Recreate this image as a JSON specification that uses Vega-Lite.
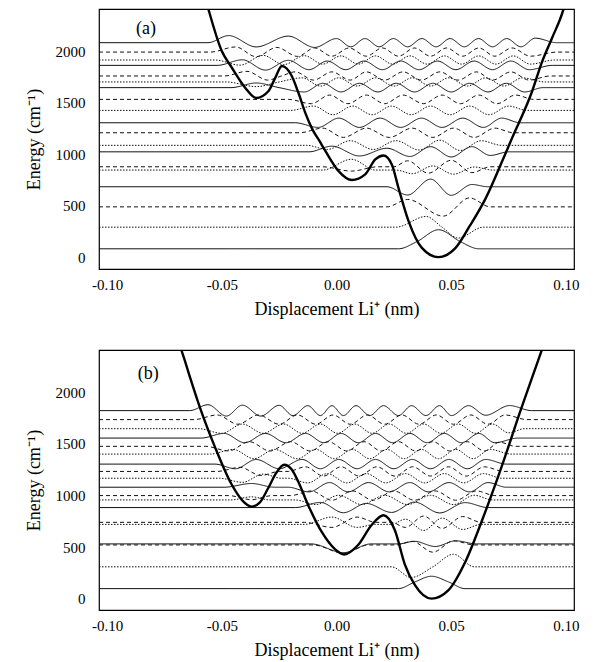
{
"$schema": "https://vega.github.io/schema/vega-lite/v6.json",
"padding": {"left": 24, "top": 8, "right": 20, "bottom": 5},
"spacing": 30,
"config": {
  "font": "Liberation Serif",
  "view": {"stroke": "black", "strokeWidth": 1.2},
  "axis": {"labelFont": "Liberation Serif", "labelFontSize": 15, "titleFont": "Liberation Serif", "titleFontSize": 18, "titleFontWeight": "normal", "labelColor": "black", "titleColor": "black", "grid": false, "domain": false, "tickColor": "black", "tickSize": 0}
},
"datasets": {
"a": [
{"k":"aP","s":"P","x":-0.0565,"y":2460},{"k":"aP","s":"P","x":-0.0558,"y":2405},{"k":"aP","s":"P","x":-0.050,"y":2000},{"k":"aP","s":"P","x":-0.0456,"y":1838},{"k":"aP","s":"P","x":-0.0398,"y":1644},{"k":"aP","s":"P","x":-0.0350,"y":1544},{"k":"aP","s":"P","x":-0.0296,"y":1612},{"k":"aP","s":"P","x":-0.0267,"y":1740},{"k":"aP","s":"P","x":-0.0238,"y":1855},{"k":"aP","s":"P","x":-0.0195,"y":1758},{"k":"aP","s":"P","x":-0.0166,"y":1595},{"k":"aP","s":"P","x":-0.0136,"y":1400},{"k":"aP","s":"P","x":-0.0105,"y":1240},{"k":"aP","s":"P","x":-0.0075,"y":1130},{"k":"aP","s":"P","x":-0.0048,"y":1029},{"k":"aP","s":"P","x":0.0009,"y":835},{"k":"aP","s":"P","x":0.0067,"y":748},{"k":"aP","s":"P","x":0.0125,"y":803},{"k":"aP","s":"P","x":0.0169,"y":949},{"k":"aP","s":"P","x":0.0205,"y":987},{"k":"aP","s":"P","x":0.0241,"y":900},{"k":"aP","s":"P","x":0.027,"y":673},{"k":"aP","s":"P","x":0.0314,"y":350},{"k":"aP","s":"P","x":0.0372,"y":90},{"k":"aP","s":"P","x":0.0444,"y":0},{"k":"aP","s":"P","x":0.0517,"y":85},{"k":"aP","s":"P","x":0.058,"y":300},{"k":"aP","s":"P","x":0.065,"y":570},{"k":"aP","s":"P","x":0.072,"y":920},{"k":"aP","s":"P","x":0.0764,"y":1150},{"k":"aP","s":"P","x":0.0851,"y":1600},{"k":"aP","s":"P","x":0.0895,"y":1890},{"k":"aP","s":"P","x":0.0938,"y":2120},{"k":"aP","s":"P","x":0.0989,"y":2405},{"k":"aP","s":"P","x":0.0996,"y":2460},

{"k":"a1","s":"S","x":-0.1035,"y":81},{"k":"a1","s":"S","x":0.027,"y":81},{"k":"a1","s":"S","x":0.035,"y":150},{"k":"a1","s":"S","x":0.0445,"y":266},{"k":"a1","s":"S","x":0.054,"y":150},{"k":"a1","s":"S","x":0.062,"y":81},{"k":"a1","s":"S","x":0.1035,"y":81},

{"k":"a2","s":"O","x":-0.1035,"y":291},{"k":"a2","s":"O","x":0.026,"y":291},{"k":"a2","s":"O","x":0.039,"y":395},{"k":"a2","s":"O","x":0.046,"y":291},{"k":"a2","s":"O","x":0.053,"y":185},{"k":"a2","s":"O","x":0.064,"y":291},{"k":"a2","s":"O","x":0.1035,"y":291},

{"k":"a3","s":"D","x":-0.1035,"y":488},{"k":"a3","s":"D","x":0.022,"y":488},{"k":"a3","s":"D","x":0.031,"y":560},{"k":"a3","s":"D","x":0.0465,"y":398},{"k":"a3","s":"D","x":0.058,"y":575},{"k":"a3","s":"D","x":0.067,"y":488},{"k":"a3","s":"D","x":0.1035,"y":488},

{"k":"a4","s":"S","x":-0.1035,"y":683},{"k":"a4","s":"S","x":0.022,"y":683},{"k":"a4","s":"S","x":0.031,"y":603},{"k":"a4","s":"S","x":0.041,"y":757},{"k":"a4","s":"S","x":0.050,"y":600},{"k":"a4","s":"S","x":0.059,"y":705},{"k":"a4","s":"S","x":0.066,"y":683},{"k":"a4","s":"S","x":0.1035,"y":683},

{"k":"a5","s":"O","x":-0.1035,"y":845},{"k":"a5","s":"O","x":-0.006,"y":845},{"k":"a5","s":"O","x":0.0065,"y":950},{"k":"a5","s":"O","x":0.017,"y":845},{"k":"a5","s":"O","x":0.026,"y":845},{"k":"a5","s":"O","x":0.033,"y":810},{"k":"a5","s":"O","x":0.042,"y":885},{"k":"a5","s":"O","x":0.051,"y":805},{"k":"a5","s":"O","x":0.060,"y":875},{"k":"a5","s":"O","x":0.068,"y":845},{"k":"a5","s":"O","x":0.1035,"y":845},

{"k":"a6","s":"D","x":-0.1035,"y":877},{"k":"a6","s":"D","x":-0.006,"y":877},{"k":"a6","s":"D","x":0.0065,"y":835},{"k":"a6","s":"D","x":0.018,"y":877},{"k":"a6","s":"D","x":0.025,"y":877},{"k":"a6","s":"D","x":0.031,"y":935},{"k":"a6","s":"D","x":0.040,"y":815},{"k":"a6","s":"D","x":0.050,"y":940},{"k":"a6","s":"D","x":0.059,"y":820},{"k":"a6","s":"D","x":0.067,"y":877},{"k":"a6","s":"D","x":0.1035,"y":877},

{"k":"a7","s":"S","x":-0.1035,"y":1022},{"k":"a7","s":"S","x":-0.012,"y":1022},{"k":"a7","s":"S","x":-0.002,"y":1077},{"k":"a7","s":"S","x":0.010,"y":982},{"k":"a7","s":"S","x":0.022,"y":1057},{"k":"a7","s":"S","x":0.032,"y":977},{"k":"a7","s":"S","x":0.041,"y":1072},{"k":"a7","s":"S","x":0.050,"y":972},{"k":"a7","s":"S","x":0.059,"y":1072},{"k":"a7","s":"S","x":0.067,"y":987},{"k":"a7","s":"S","x":0.075,"y":1022},{"k":"a7","s":"S","x":0.1035,"y":1022},

{"k":"a8","s":"O","x":-0.1035,"y":1085},{"k":"a8","s":"O","x":-0.013,"y":1085},{"k":"a8","s":"O","x":-0.004,"y":1045},{"k":"a8","s":"O","x":0.006,"y":1130},{"k":"a8","s":"O","x":0.016,"y":1045},{"k":"a8","s":"O","x":0.026,"y":1130},{"k":"a8","s":"O","x":0.036,"y":1040},{"k":"a8","s":"O","x":0.045,"y":1135},{"k":"a8","s":"O","x":0.054,"y":1035},{"k":"a8","s":"O","x":0.063,"y":1130},{"k":"a8","s":"O","x":0.072,"y":1085},{"k":"a8","s":"O","x":0.1035,"y":1085},

{"k":"a9","s":"D","x":-0.1035,"y":1207},{"k":"a9","s":"D","x":-0.016,"y":1207},{"k":"a9","s":"D","x":-0.006,"y":1252},{"k":"a9","s":"D","x":0.003,"y":1162},{"k":"a9","s":"D","x":0.013,"y":1252},{"k":"a9","s":"D","x":0.023,"y":1162},{"k":"a9","s":"D","x":0.033,"y":1252},{"k":"a9","s":"D","x":0.042,"y":1162},{"k":"a9","s":"D","x":0.051,"y":1252},{"k":"a9","s":"D","x":0.060,"y":1162},{"k":"a9","s":"D","x":0.069,"y":1252},{"k":"a9","s":"D","x":0.077,"y":1207},{"k":"a9","s":"D","x":0.1035,"y":1207},

{"k":"a10","s":"S","x":-0.1035,"y":1304},{"k":"a10","s":"S","x":-0.018,"y":1304},{"k":"a10","s":"S","x":-0.008,"y":1259},{"k":"a10","s":"S","x":0.001,"y":1349},{"k":"a10","s":"S","x":0.010,"y":1259},{"k":"a10","s":"S","x":0.019,"y":1349},{"k":"a10","s":"S","x":0.028,"y":1259},{"k":"a10","s":"S","x":0.037,"y":1349},{"k":"a10","s":"S","x":0.046,"y":1259},{"k":"a10","s":"S","x":0.055,"y":1349},{"k":"a10","s":"S","x":0.064,"y":1259},{"k":"a10","s":"S","x":0.072,"y":1349},{"k":"a10","s":"S","x":0.080,"y":1304},{"k":"a10","s":"S","x":0.1035,"y":1304},

{"k":"a11","s":"O","x":-0.1035,"y":1424},{"k":"a11","s":"O","x":-0.020,"y":1424},{"k":"a11","s":"O","x":-0.010,"y":1466},{"k":"a11","s":"O","x":-0.0015,"y":1382},{"k":"a11","s":"O","x":0.007,"y":1466},{"k":"a11","s":"O","x":0.0155,"y":1382},{"k":"a11","s":"O","x":0.024,"y":1466},{"k":"a11","s":"O","x":0.0325,"y":1382},{"k":"a11","s":"O","x":0.041,"y":1466},{"k":"a11","s":"O","x":0.0495,"y":1382},{"k":"a11","s":"O","x":0.058,"y":1466},{"k":"a11","s":"O","x":0.0665,"y":1382},{"k":"a11","s":"O","x":0.075,"y":1466},{"k":"a11","s":"O","x":0.083,"y":1424},{"k":"a11","s":"O","x":0.1035,"y":1424},

{"k":"a12","s":"D","x":-0.1035,"y":1531},{"k":"a12","s":"D","x":-0.021,"y":1531},{"k":"a12","s":"D","x":-0.011,"y":1489},{"k":"a12","s":"D","x":-0.003,"y":1573},{"k":"a12","s":"D","x":0.005,"y":1489},{"k":"a12","s":"D","x":0.013,"y":1573},{"k":"a12","s":"D","x":0.021,"y":1489},{"k":"a12","s":"D","x":0.029,"y":1573},{"k":"a12","s":"D","x":0.038,"y":1489},{"k":"a12","s":"D","x":0.046,"y":1573},{"k":"a12","s":"D","x":0.054,"y":1489},{"k":"a12","s":"D","x":0.062,"y":1573},{"k":"a12","s":"D","x":0.070,"y":1489},{"k":"a12","s":"D","x":0.078,"y":1573},{"k":"a12","s":"D","x":0.086,"y":1531},{"k":"a12","s":"D","x":0.1035,"y":1531},

{"k":"a13","s":"S","x":-0.1035,"y":1645},{"k":"a13","s":"S","x":-0.046,"y":1645},{"k":"a13","s":"S","x":-0.035,"y":1690},{"k":"a13","s":"S","x":-0.025,"y":1645},{"k":"a13","s":"S","x":-0.014,"y":1603},{"k":"a13","s":"S","x":-0.006,"y":1687},{"k":"a13","s":"S","x":0.002,"y":1603},{"k":"a13","s":"S","x":0.010,"y":1687},{"k":"a13","s":"S","x":0.018,"y":1603},{"k":"a13","s":"S","x":0.026,"y":1687},{"k":"a13","s":"S","x":0.034,"y":1603},{"k":"a13","s":"S","x":0.042,"y":1687},{"k":"a13","s":"S","x":0.050,"y":1603},{"k":"a13","s":"S","x":0.058,"y":1687},{"k":"a13","s":"S","x":0.066,"y":1603},{"k":"a13","s":"S","x":0.074,"y":1687},{"k":"a13","s":"S","x":0.082,"y":1603},{"k":"a13","s":"S","x":0.090,"y":1645},{"k":"a13","s":"S","x":0.1035,"y":1645},

{"k":"a14","s":"O","x":-0.1035,"y":1700},{"k":"a14","s":"O","x":-0.048,"y":1700},{"k":"a14","s":"O","x":-0.035,"y":1655},{"k":"a14","s":"O","x":-0.025,"y":1700},{"k":"a14","s":"O","x":-0.015,"y":1740},{"k":"a14","s":"O","x":-0.007,"y":1660},{"k":"a14","s":"O","x":0.001,"y":1740},{"k":"a14","s":"O","x":0.009,"y":1660},{"k":"a14","s":"O","x":0.017,"y":1740},{"k":"a14","s":"O","x":0.025,"y":1660},{"k":"a14","s":"O","x":0.033,"y":1740},{"k":"a14","s":"O","x":0.041,"y":1660},{"k":"a14","s":"O","x":0.049,"y":1740},{"k":"a14","s":"O","x":0.057,"y":1660},{"k":"a14","s":"O","x":0.065,"y":1740},{"k":"a14","s":"O","x":0.073,"y":1660},{"k":"a14","s":"O","x":0.081,"y":1740},{"k":"a14","s":"O","x":0.091,"y":1700},{"k":"a14","s":"O","x":0.1035,"y":1700},

{"k":"a15","s":"D","x":-0.1035,"y":1758},{"k":"a15","s":"D","x":-0.049,"y":1758},{"k":"a15","s":"D","x":-0.039,"y":1803},{"k":"a15","s":"D","x":-0.030,"y":1718},{"k":"a15","s":"D","x":-0.024,"y":1758},{"k":"a15","s":"D","x":-0.018,"y":1798},{"k":"a15","s":"D","x":-0.010,"y":1718},{"k":"a15","s":"D","x":-0.002,"y":1798},{"k":"a15","s":"D","x":0.006,"y":1718},{"k":"a15","s":"D","x":0.013,"y":1798},{"k":"a15","s":"D","x":0.021,"y":1718},{"k":"a15","s":"D","x":0.029,"y":1798},{"k":"a15","s":"D","x":0.037,"y":1718},{"k":"a15","s":"D","x":0.045,"y":1798},{"k":"a15","s":"D","x":0.053,"y":1718},{"k":"a15","s":"D","x":0.061,"y":1798},{"k":"a15","s":"D","x":0.068,"y":1718},{"k":"a15","s":"D","x":0.076,"y":1798},{"k":"a15","s":"D","x":0.084,"y":1718},{"k":"a15","s":"D","x":0.093,"y":1758},{"k":"a15","s":"D","x":0.1035,"y":1758},

{"k":"a16","s":"S","x":-0.1035,"y":1861},{"k":"a16","s":"S","x":-0.052,"y":1861},{"k":"a16","s":"S","x":-0.041,"y":1915},{"k":"a16","s":"S","x":-0.031,"y":1815},{"k":"a16","s":"S","x":-0.021,"y":1910},{"k":"a16","s":"S","x":-0.012,"y":1819},{"k":"a16","s":"S","x":-0.004,"y":1903},{"k":"a16","s":"S","x":0.004,"y":1819},{"k":"a16","s":"S","x":0.012,"y":1903},{"k":"a16","s":"S","x":0.020,"y":1819},{"k":"a16","s":"S","x":0.028,"y":1903},{"k":"a16","s":"S","x":0.036,"y":1819},{"k":"a16","s":"S","x":0.044,"y":1903},{"k":"a16","s":"S","x":0.052,"y":1819},{"k":"a16","s":"S","x":0.060,"y":1903},{"k":"a16","s":"S","x":0.068,"y":1819},{"k":"a16","s":"S","x":0.076,"y":1903},{"k":"a16","s":"S","x":0.084,"y":1819},{"k":"a16","s":"S","x":0.094,"y":1861},{"k":"a16","s":"S","x":0.1035,"y":1861},

{"k":"a17","s":"O","x":-0.1035,"y":1913},{"k":"a17","s":"O","x":-0.053,"y":1913},{"k":"a17","s":"O","x":-0.042,"y":1863},{"k":"a17","s":"O","x":-0.032,"y":1958},{"k":"a17","s":"O","x":-0.023,"y":1868},{"k":"a17","s":"O","x":-0.014,"y":1955},{"k":"a17","s":"O","x":-0.006,"y":1873},{"k":"a17","s":"O","x":0.002,"y":1953},{"k":"a17","s":"O","x":0.0095,"y":1873},{"k":"a17","s":"O","x":0.017,"y":1953},{"k":"a17","s":"O","x":0.0245,"y":1873},{"k":"a17","s":"O","x":0.032,"y":1953},{"k":"a17","s":"O","x":0.0395,"y":1873},{"k":"a17","s":"O","x":0.047,"y":1953},{"k":"a17","s":"O","x":0.0545,"y":1873},{"k":"a17","s":"O","x":0.062,"y":1953},{"k":"a17","s":"O","x":0.0695,"y":1873},{"k":"a17","s":"O","x":0.077,"y":1953},{"k":"a17","s":"O","x":0.0845,"y":1873},{"k":"a17","s":"O","x":0.095,"y":1913},{"k":"a17","s":"O","x":0.1035,"y":1913},

{"k":"a18","s":"D","x":-0.1035,"y":1990},{"k":"a18","s":"D","x":-0.055,"y":1990},{"k":"a18","s":"D","x":-0.044,"y":2040},{"k":"a18","s":"D","x":-0.035,"y":1945},{"k":"a18","s":"D","x":-0.026,"y":2035},{"k":"a18","s":"D","x":-0.017,"y":1948},{"k":"a18","s":"D","x":-0.0095,"y":2030},{"k":"a18","s":"D","x":-0.002,"y":1950},{"k":"a18","s":"D","x":0.0055,"y":2030},{"k":"a18","s":"D","x":0.013,"y":1950},{"k":"a18","s":"D","x":0.020,"y":2030},{"k":"a18","s":"D","x":0.027,"y":1950},{"k":"a18","s":"D","x":0.034,"y":2030},{"k":"a18","s":"D","x":0.041,"y":1950},{"k":"a18","s":"D","x":0.048,"y":2030},{"k":"a18","s":"D","x":0.055,"y":1950},{"k":"a18","s":"D","x":0.062,"y":2030},{"k":"a18","s":"D","x":0.069,"y":1950},{"k":"a18","s":"D","x":0.0765,"y":2030},{"k":"a18","s":"D","x":0.0845,"y":1950},{"k":"a18","s":"D","x":0.096,"y":1990},{"k":"a18","s":"D","x":0.1035,"y":1990},

{"k":"a19","s":"S","x":-0.1035,"y":2081},{"k":"a19","s":"S","x":-0.056,"y":2081},{"k":"a19","s":"S","x":-0.047,"y":2150},{"k":"a19","s":"S","x":-0.035,"y":2040},{"k":"a19","s":"S","x":-0.021,"y":2145},{"k":"a19","s":"S","x":-0.0095,"y":2035},{"k":"a19","s":"S","x":0.000,"y":2121},{"k":"a19","s":"S","x":0.0062,"y":2041},{"k":"a19","s":"S","x":0.0124,"y":2121},{"k":"a19","s":"S","x":0.0186,"y":2041},{"k":"a19","s":"S","x":0.0248,"y":2121},{"k":"a19","s":"S","x":0.031,"y":2041},{"k":"a19","s":"S","x":0.0372,"y":2121},{"k":"a19","s":"S","x":0.0434,"y":2041},{"k":"a19","s":"S","x":0.0495,"y":2121},{"k":"a19","s":"S","x":0.0557,"y":2041},{"k":"a19","s":"S","x":0.0619,"y":2121},{"k":"a19","s":"S","x":0.068,"y":2041},{"k":"a19","s":"S","x":0.0742,"y":2121},{"k":"a19","s":"S","x":0.0804,"y":2041},{"k":"a19","s":"S","x":0.0866,"y":2125},{"k":"a19","s":"S","x":0.096,"y":2081},{"k":"a19","s":"S","x":0.1035,"y":2081}
],
"b": [
{"k":"bP","s":"P","x":-0.0685,"y":2460},{"k":"bP","s":"P","x":-0.0675,"y":2400},{"k":"bP","s":"P","x":-0.0635,"y":2120},{"k":"bP","s":"P","x":-0.0595,"y":1850},{"k":"bP","s":"P","x":-0.053,"y":1470},{"k":"bP","s":"P","x":-0.0458,"y":1110},{"k":"bP","s":"P","x":-0.041,"y":950},{"k":"bP","s":"P","x":-0.037,"y":891},{"k":"bP","s":"P","x":-0.0335,"y":930},{"k":"bP","s":"P","x":-0.0298,"y":1069},{"k":"bP","s":"P","x":-0.0262,"y":1220},{"k":"bP","s":"P","x":-0.0228,"y":1297},{"k":"bP","s":"P","x":-0.0195,"y":1250},{"k":"bP","s":"P","x":-0.0167,"y":1134},{"k":"bP","s":"P","x":-0.0124,"y":908},{"k":"bP","s":"P","x":-0.0065,"y":648},{"k":"bP","s":"P","x":-0.0007,"y":480},{"k":"bP","s":"P","x":0.0033,"y":428},{"k":"bP","s":"P","x":0.0094,"y":519},{"k":"bP","s":"P","x":0.0153,"y":713},{"k":"bP","s":"P","x":0.0205,"y":808},{"k":"bP","s":"P","x":0.0254,"y":665},{"k":"bP","s":"P","x":0.0298,"y":330},{"k":"bP","s":"P","x":0.0342,"y":130},{"k":"bP","s":"P","x":0.0414,"y":0},{"k":"bP","s":"P","x":0.0487,"y":80},{"k":"bP","s":"P","x":0.056,"y":350},{"k":"bP","s":"P","x":0.0632,"y":745},{"k":"bP","s":"P","x":0.0712,"y":1230},{"k":"bP","s":"P","x":0.0806,"y":1847},{"k":"bP","s":"P","x":0.0893,"y":2398},{"k":"bP","s":"P","x":0.0903,"y":2460},

{"k":"b1","s":"S","x":-0.1035,"y":97},{"k":"b1","s":"S","x":0.027,"y":97},{"k":"b1","s":"S","x":0.034,"y":160},{"k":"b1","s":"S","x":0.0414,"y":217},{"k":"b1","s":"S","x":0.049,"y":160},{"k":"b1","s":"S","x":0.056,"y":97},{"k":"b1","s":"S","x":0.1035,"y":97},

{"k":"b2","s":"O","x":-0.1035,"y":308},{"k":"b2","s":"O","x":0.024,"y":308},{"k":"b2","s":"O","x":0.0325,"y":205},{"k":"b2","s":"O","x":0.042,"y":308},{"k":"b2","s":"O","x":0.051,"y":430},{"k":"b2","s":"O","x":0.060,"y":308},{"k":"b2","s":"O","x":0.1035,"y":308},

{"k":"b3","s":"D","x":-0.1035,"y":520},{"k":"b3","s":"D","x":-0.010,"y":520},{"k":"b3","s":"D","x":0.003,"y":440},{"k":"b3","s":"D","x":0.014,"y":520},{"k":"b3","s":"D","x":0.026,"y":520},{"k":"b3","s":"D","x":0.033,"y":555},{"k":"b3","s":"D","x":0.042,"y":450},{"k":"b3","s":"D","x":0.051,"y":560},{"k":"b3","s":"D","x":0.060,"y":520},{"k":"b3","s":"D","x":0.1035,"y":520},

{"k":"b4","s":"S","x":-0.1035,"y":530},{"k":"b4","s":"S","x":-0.011,"y":530},{"k":"b4","s":"S","x":0.003,"y":445},{"k":"b4","s":"S","x":0.015,"y":530},{"k":"b4","s":"S","x":0.027,"y":530},{"k":"b4","s":"S","x":0.034,"y":555},{"k":"b4","s":"S","x":0.043,"y":505},{"k":"b4","s":"S","x":0.052,"y":560},{"k":"b4","s":"S","x":0.061,"y":530},{"k":"b4","s":"S","x":0.1035,"y":530},

{"k":"b5","s":"O","x":-0.1035,"y":719},{"k":"b5","s":"O","x":-0.014,"y":719},{"k":"b5","s":"O","x":-0.002,"y":790},{"k":"b5","s":"O","x":0.009,"y":690},{"k":"b5","s":"O","x":0.017,"y":719},{"k":"b5","s":"O","x":0.024,"y":719},{"k":"b5","s":"O","x":0.030,"y":770},{"k":"b5","s":"O","x":0.038,"y":660},{"k":"b5","s":"O","x":0.046,"y":780},{"k":"b5","s":"O","x":0.055,"y":670},{"k":"b5","s":"O","x":0.063,"y":719},{"k":"b5","s":"O","x":0.1035,"y":719},

{"k":"b6","s":"D","x":-0.1035,"y":739},{"k":"b6","s":"D","x":-0.014,"y":739},{"k":"b6","s":"D","x":-0.002,"y":690},{"k":"b6","s":"D","x":0.009,"y":790},{"k":"b6","s":"D","x":0.017,"y":739},{"k":"b6","s":"D","x":0.024,"y":739},{"k":"b6","s":"D","x":0.030,"y":690},{"k":"b6","s":"D","x":0.038,"y":800},{"k":"b6","s":"D","x":0.046,"y":680},{"k":"b6","s":"D","x":0.055,"y":795},{"k":"b6","s":"D","x":0.063,"y":739},{"k":"b6","s":"D","x":0.1035,"y":739},

{"k":"b7","s":"S","x":-0.1035,"y":882},{"k":"b7","s":"S","x":-0.018,"y":882},{"k":"b7","s":"S","x":-0.007,"y":932},{"k":"b7","s":"S","x":0.003,"y":832},{"k":"b7","s":"S","x":0.013,"y":922},{"k":"b7","s":"S","x":0.024,"y":835},{"k":"b7","s":"S","x":0.034,"y":935},{"k":"b7","s":"S","x":0.045,"y":830},{"k":"b7","s":"S","x":0.056,"y":930},{"k":"b7","s":"S","x":0.066,"y":882},{"k":"b7","s":"S","x":0.1035,"y":882},

{"k":"b8","s":"O","x":-0.1035,"y":956},{"k":"b8","s":"O","x":-0.046,"y":956},{"k":"b8","s":"O","x":-0.037,"y":986},{"k":"b8","s":"O","x":-0.029,"y":956},{"k":"b8","s":"O","x":-0.018,"y":956},{"k":"b8","s":"O","x":-0.009,"y":911},{"k":"b8","s":"O","x":0.001,"y":1001},{"k":"b8","s":"O","x":0.011,"y":911},{"k":"b8","s":"O","x":0.021,"y":1001},{"k":"b8","s":"O","x":0.031,"y":911},{"k":"b8","s":"O","x":0.041,"y":1001},{"k":"b8","s":"O","x":0.051,"y":911},{"k":"b8","s":"O","x":0.060,"y":1001},{"k":"b8","s":"O","x":0.068,"y":956},{"k":"b8","s":"O","x":0.1035,"y":956},

{"k":"b9","s":"D","x":-0.1035,"y":998},{"k":"b9","s":"D","x":-0.047,"y":998},{"k":"b9","s":"D","x":-0.037,"y":958},{"k":"b9","s":"D","x":-0.028,"y":998},{"k":"b9","s":"D","x":-0.020,"y":998},{"k":"b9","s":"D","x":-0.011,"y":1043},{"k":"b9","s":"D","x":-0.002,"y":953},{"k":"b9","s":"D","x":0.007,"y":1043},{"k":"b9","s":"D","x":0.016,"y":953},{"k":"b9","s":"D","x":0.025,"y":1043},{"k":"b9","s":"D","x":0.034,"y":953},{"k":"b9","s":"D","x":0.043,"y":1043},{"k":"b9","s":"D","x":0.052,"y":953},{"k":"b9","s":"D","x":0.061,"y":1043},{"k":"b9","s":"D","x":0.069,"y":998},{"k":"b9","s":"D","x":0.1035,"y":998},

{"k":"b10","s":"S","x":-0.1035,"y":1079},{"k":"b10","s":"S","x":-0.049,"y":1079},{"k":"b10","s":"S","x":-0.037,"y":1115},{"k":"b10","s":"S","x":-0.027,"y":1079},{"k":"b10","s":"S","x":-0.021,"y":1079},{"k":"b10","s":"S","x":-0.012,"y":1034},{"k":"b10","s":"S","x":-0.003,"y":1124},{"k":"b10","s":"S","x":0.005,"y":1034},{"k":"b10","s":"S","x":0.014,"y":1124},{"k":"b10","s":"S","x":0.023,"y":1034},{"k":"b10","s":"S","x":0.032,"y":1124},{"k":"b10","s":"S","x":0.040,"y":1034},{"k":"b10","s":"S","x":0.049,"y":1124},{"k":"b10","s":"S","x":0.058,"y":1034},{"k":"b10","s":"S","x":0.066,"y":1124},{"k":"b10","s":"S","x":0.074,"y":1079},{"k":"b10","s":"S","x":0.1035,"y":1079},

{"k":"b11","s":"O","x":-0.1035,"y":1166},{"k":"b11","s":"O","x":-0.051,"y":1166},{"k":"b11","s":"O","x":-0.041,"y":1126},{"k":"b11","s":"O","x":-0.032,"y":1206},{"k":"b11","s":"O","x":-0.024,"y":1166},{"k":"b11","s":"O","x":-0.021,"y":1166},{"k":"b11","s":"O","x":-0.0125,"y":1121},{"k":"b11","s":"O","x":-0.004,"y":1211},{"k":"b11","s":"O","x":0.0045,"y":1121},{"k":"b11","s":"O","x":0.013,"y":1211},{"k":"b11","s":"O","x":0.0215,"y":1121},{"k":"b11","s":"O","x":0.030,"y":1211},{"k":"b11","s":"O","x":0.0385,"y":1121},{"k":"b11","s":"O","x":0.047,"y":1211},{"k":"b11","s":"O","x":0.0555,"y":1121},{"k":"b11","s":"O","x":0.064,"y":1211},{"k":"b11","s":"O","x":0.072,"y":1166},{"k":"b11","s":"O","x":0.1035,"y":1166},

{"k":"b12","s":"D","x":-0.1035,"y":1232},{"k":"b12","s":"D","x":-0.052,"y":1232},{"k":"b12","s":"D","x":-0.042,"y":1272},{"k":"b12","s":"D","x":-0.033,"y":1192},{"k":"b12","s":"D","x":-0.025,"y":1232},{"k":"b12","s":"D","x":-0.021,"y":1232},{"k":"b12","s":"D","x":-0.0135,"y":1277},{"k":"b12","s":"D","x":-0.0057,"y":1187},{"k":"b12","s":"D","x":0.002,"y":1277},{"k":"b12","s":"D","x":0.0098,"y":1187},{"k":"b12","s":"D","x":0.0176,"y":1277},{"k":"b12","s":"D","x":0.0254,"y":1187},{"k":"b12","s":"D","x":0.0332,"y":1277},{"k":"b12","s":"D","x":0.041,"y":1187},{"k":"b12","s":"D","x":0.0488,"y":1277},{"k":"b12","s":"D","x":0.0566,"y":1187},{"k":"b12","s":"D","x":0.0644,"y":1277},{"k":"b12","s":"D","x":0.073,"y":1232},{"k":"b12","s":"D","x":0.1035,"y":1232},

{"k":"b13","s":"S","x":-0.1035,"y":1303},{"k":"b13","s":"S","x":-0.053,"y":1303},{"k":"b13","s":"S","x":-0.044,"y":1258},{"k":"b13","s":"S","x":-0.035,"y":1348},{"k":"b13","s":"S","x":-0.025,"y":1258},{"k":"b13","s":"S","x":-0.015,"y":1348},{"k":"b13","s":"S","x":-0.007,"y":1258},{"k":"b13","s":"S","x":0.001,"y":1348},{"k":"b13","s":"S","x":0.009,"y":1258},{"k":"b13","s":"S","x":0.017,"y":1348},{"k":"b13","s":"S","x":0.025,"y":1258},{"k":"b13","s":"S","x":0.033,"y":1348},{"k":"b13","s":"S","x":0.041,"y":1258},{"k":"b13","s":"S","x":0.049,"y":1348},{"k":"b13","s":"S","x":0.057,"y":1258},{"k":"b13","s":"S","x":0.065,"y":1348},{"k":"b13","s":"S","x":0.074,"y":1303},{"k":"b13","s":"S","x":0.1035,"y":1303},

{"k":"b14","s":"O","x":-0.1035,"y":1400},{"k":"b14","s":"O","x":-0.055,"y":1400},{"k":"b14","s":"O","x":-0.045,"y":1445},{"k":"b14","s":"O","x":-0.036,"y":1355},{"k":"b14","s":"O","x":-0.027,"y":1445},{"k":"b14","s":"O","x":-0.017,"y":1355},{"k":"b14","s":"O","x":-0.009,"y":1445},{"k":"b14","s":"O","x":-0.001,"y":1355},{"k":"b14","s":"O","x":0.007,"y":1445},{"k":"b14","s":"O","x":0.0145,"y":1355},{"k":"b14","s":"O","x":0.022,"y":1445},{"k":"b14","s":"O","x":0.0295,"y":1355},{"k":"b14","s":"O","x":0.037,"y":1445},{"k":"b14","s":"O","x":0.0445,"y":1355},{"k":"b14","s":"O","x":0.052,"y":1445},{"k":"b14","s":"O","x":0.0595,"y":1355},{"k":"b14","s":"O","x":0.067,"y":1445},{"k":"b14","s":"O","x":0.076,"y":1400},{"k":"b14","s":"O","x":0.1035,"y":1400},

{"k":"b15","s":"D","x":-0.1035,"y":1475},{"k":"b15","s":"D","x":-0.057,"y":1475},{"k":"b15","s":"D","x":-0.047,"y":1430},{"k":"b15","s":"D","x":-0.038,"y":1520},{"k":"b15","s":"D","x":-0.029,"y":1430},{"k":"b15","s":"D","x":-0.020,"y":1520},{"k":"b15","s":"D","x":-0.0115,"y":1430},{"k":"b15","s":"D","x":-0.0035,"y":1520},{"k":"b15","s":"D","x":0.0045,"y":1430},{"k":"b15","s":"D","x":0.012,"y":1520},{"k":"b15","s":"D","x":0.0195,"y":1430},{"k":"b15","s":"D","x":0.027,"y":1520},{"k":"b15","s":"D","x":0.0345,"y":1430},{"k":"b15","s":"D","x":0.042,"y":1520},{"k":"b15","s":"D","x":0.0495,"y":1430},{"k":"b15","s":"D","x":0.057,"y":1520},{"k":"b15","s":"D","x":0.0645,"y":1430},{"k":"b15","s":"D","x":0.071,"y":1515},{"k":"b15","s":"D","x":0.078,"y":1475},{"k":"b15","s":"D","x":0.1035,"y":1475},

{"k":"b16","s":"S","x":-0.1035,"y":1555},{"k":"b16","s":"S","x":-0.059,"y":1555},{"k":"b16","s":"S","x":-0.049,"y":1600},{"k":"b16","s":"S","x":-0.040,"y":1510},{"k":"b16","s":"S","x":-0.031,"y":1600},{"k":"b16","s":"S","x":-0.022,"y":1510},{"k":"b16","s":"S","x":-0.0135,"y":1600},{"k":"b16","s":"S","x":-0.0055,"y":1510},{"k":"b16","s":"S","x":0.002,"y":1600},{"k":"b16","s":"S","x":0.0095,"y":1510},{"k":"b16","s":"S","x":0.017,"y":1600},{"k":"b16","s":"S","x":0.0245,"y":1510},{"k":"b16","s":"S","x":0.032,"y":1600},{"k":"b16","s":"S","x":0.0395,"y":1510},{"k":"b16","s":"S","x":0.047,"y":1600},{"k":"b16","s":"S","x":0.0545,"y":1510},{"k":"b16","s":"S","x":0.062,"y":1600},{"k":"b16","s":"S","x":0.069,"y":1510},{"k":"b16","s":"S","x":0.079,"y":1555},{"k":"b16","s":"S","x":0.1035,"y":1555},

{"k":"b17","s":"O","x":-0.1035,"y":1646},{"k":"b17","s":"O","x":-0.060,"y":1646},{"k":"b17","s":"O","x":-0.050,"y":1601},{"k":"b17","s":"O","x":-0.041,"y":1691},{"k":"b17","s":"O","x":-0.032,"y":1601},{"k":"b17","s":"O","x":-0.023,"y":1691},{"k":"b17","s":"O","x":-0.015,"y":1601},{"k":"b17","s":"O","x":-0.007,"y":1691},{"k":"b17","s":"O","x":0.0005,"y":1601},{"k":"b17","s":"O","x":0.008,"y":1691},{"k":"b17","s":"O","x":0.0155,"y":1601},{"k":"b17","s":"O","x":0.023,"y":1691},{"k":"b17","s":"O","x":0.0305,"y":1601},{"k":"b17","s":"O","x":0.038,"y":1691},{"k":"b17","s":"O","x":0.0455,"y":1601},{"k":"b17","s":"O","x":0.053,"y":1691},{"k":"b17","s":"O","x":0.0605,"y":1601},{"k":"b17","s":"O","x":0.068,"y":1691},{"k":"b17","s":"O","x":0.075,"y":1606},{"k":"b17","s":"O","x":0.082,"y":1646},{"k":"b17","s":"O","x":0.1035,"y":1646},

{"k":"b18","s":"D","x":-0.1035,"y":1734},{"k":"b18","s":"D","x":-0.062,"y":1734},{"k":"b18","s":"D","x":-0.052,"y":1779},{"k":"b18","s":"D","x":-0.043,"y":1689},{"k":"b18","s":"D","x":-0.034,"y":1779},{"k":"b18","s":"D","x":-0.025,"y":1689},{"k":"b18","s":"D","x":-0.017,"y":1779},{"k":"b18","s":"D","x":-0.009,"y":1689},{"k":"b18","s":"D","x":-0.0015,"y":1779},{"k":"b18","s":"D","x":0.006,"y":1689},{"k":"b18","s":"D","x":0.0135,"y":1779},{"k":"b18","s":"D","x":0.021,"y":1689},{"k":"b18","s":"D","x":0.0285,"y":1779},{"k":"b18","s":"D","x":0.036,"y":1689},{"k":"b18","s":"D","x":0.0435,"y":1779},{"k":"b18","s":"D","x":0.051,"y":1689},{"k":"b18","s":"D","x":0.0585,"y":1779},{"k":"b18","s":"D","x":0.066,"y":1689},{"k":"b18","s":"D","x":0.0735,"y":1779},{"k":"b18","s":"D","x":0.083,"y":1734},{"k":"b18","s":"D","x":0.1035,"y":1734},

{"k":"b19","s":"S","x":-0.1035,"y":1821},{"k":"b19","s":"S","x":-0.064,"y":1821},{"k":"b19","s":"S","x":-0.056,"y":1878},{"k":"b19","s":"S","x":-0.048,"y":1768},{"k":"b19","s":"S","x":-0.041,"y":1874},{"k":"b19","s":"S","x":-0.033,"y":1768},{"k":"b19","s":"S","x":-0.025,"y":1872},{"k":"b19","s":"S","x":-0.019,"y":1773},{"k":"b19","s":"S","x":-0.0125,"y":1869},{"k":"b19","s":"S","x":-0.007,"y":1773},{"k":"b19","s":"S","x":-0.002,"y":1869},{"k":"b19","s":"S","x":0.003,"y":1773},{"k":"b19","s":"S","x":0.0085,"y":1869},{"k":"b19","s":"S","x":0.0145,"y":1773},{"k":"b19","s":"S","x":0.0205,"y":1869},{"k":"b19","s":"S","x":0.027,"y":1773},{"k":"b19","s":"S","x":0.0327,"y":1869},{"k":"b19","s":"S","x":0.039,"y":1773},{"k":"b19","s":"S","x":0.0449,"y":1869},{"k":"b19","s":"S","x":0.0501,"y":1773},{"k":"b19","s":"S","x":0.0575,"y":1869},{"k":"b19","s":"S","x":0.065,"y":1776},{"k":"b19","s":"S","x":0.0754,"y":1870},{"k":"b19","s":"S","x":0.085,"y":1821},{"k":"b19","s":"S","x":0.1035,"y":1821}
]
},
"vconcat": [
{
 "width": 475, "height": 260,
 "encoding": {
   "x": {"field": "x", "type": "quantitative", "scale": {"domain": [-0.1035, 0.1035], "nice": false, "zero": false}, "axis": {"values": [-0.1,-0.05,0,0.05,0.1], "labelExpr": "replace(format(datum.value, '.2f'), '\u2212', '-')", "title": "Displacement Li\u207a (nm)", "labelPadding": 8, "titlePadding": 8}},
   "y": {"field": "y", "type": "quantitative", "scale": {"domain": [-115, 2408], "nice": false, "zero": false}, "axis": {"values": [0,500,1000,1500,2000], "format": "d", "title": "Energy (cm\u207b\u00b9)", "labelPadding": 14, "titlePadding": 12}}
 },
 "layer": [
  {"data": {"name": "a"},
   "transform": [{"filter": "datum.s != 'P'"}],
   "mark": {"type": "line", "interpolate": "monotone", "clip": true, "color": "#111", "strokeWidth": 1},
   "encoding": {
     "detail": {"field": "k"},
     "strokeDash": {"field": "s", "type": "nominal", "scale": {"domain": ["S","D","O"], "range": [[1,0],[4,3],[1.5,1.5]]}, "legend": null}
   }},
  {"data": {"name": "a"},
   "transform": [{"filter": "datum.s == 'P'"}],
   "mark": {"type": "line", "interpolate": "monotone", "clip": true, "color": "black", "strokeWidth": 2.4},
   "encoding": {}},
  {"data": {"values": [{"x": -0.083, "y": 2214, "t": "(a)"}]},
   "mark": {"type": "text", "fontSize": 18, "font": "Liberation Serif", "color": "black"},
   "encoding": {"text": {"field": "t"}}}
 ]
},
{
 "width": 475, "height": 260,
 "encoding": {
   "x": {"field": "x", "type": "quantitative", "scale": {"domain": [-0.1035, 0.1035], "nice": false, "zero": false}, "axis": {"values": [-0.1,-0.05,0,0.05,0.1], "labelExpr": "replace(format(datum.value, '.2f'), '\u2212', '-')", "title": "Displacement Li\u207a (nm)", "labelPadding": 8, "titlePadding": 8}},
   "y": {"field": "y", "type": "quantitative", "scale": {"domain": [-110, 2408], "nice": false, "zero": false}, "axis": {"values": [0,500,1000,1500,2000], "format": "d", "title": "Energy (cm\u207b\u00b9)", "labelPadding": 14, "titlePadding": 12}}
 },
 "layer": [
  {"data": {"name": "b"},
   "transform": [{"filter": "datum.s != 'P'"}],
   "mark": {"type": "line", "interpolate": "monotone", "clip": true, "color": "#111", "strokeWidth": 1},
   "encoding": {
     "detail": {"field": "k"},
     "strokeDash": {"field": "s", "type": "nominal", "scale": {"domain": ["S","D","O"], "range": [[1,0],[4,3],[1.5,1.5]]}, "legend": null}
   }},
  {"data": {"name": "b"},
   "transform": [{"filter": "datum.s == 'P'"}],
   "mark": {"type": "line", "interpolate": "monotone", "clip": true, "color": "black", "strokeWidth": 2.4},
   "encoding": {}},
  {"data": {"values": [{"x": -0.082, "y": 2174, "t": "(b)"}]},
   "mark": {"type": "text", "fontSize": 18, "font": "Liberation Serif", "color": "black"},
   "encoding": {"text": {"field": "t"}}}
 ]
}
]
}
